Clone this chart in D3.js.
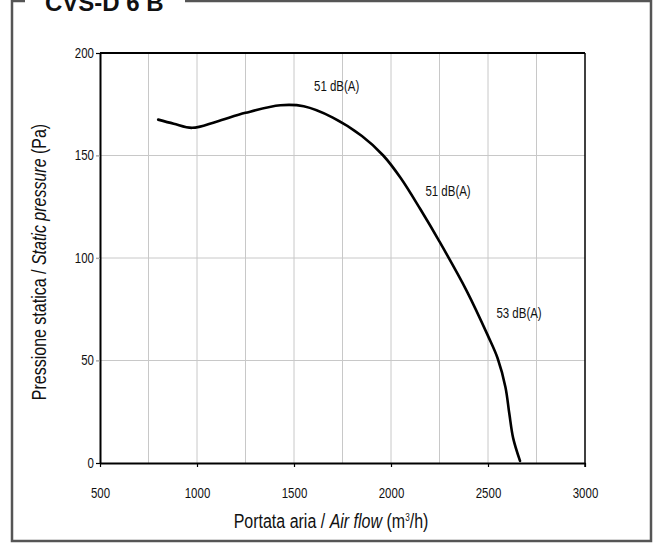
<!DOCTYPE html>
<html>
<head>
<meta charset="utf-8">
<script src="https://cdn.jsdelivr.net/npm/d3@7"></script>
<style>
  html, body { margin: 0; padding: 0; background: #fff; }
  svg { display: block; }
  text { font-family: "Liberation Sans", Arial, sans-serif; fill: #111; }
</style>
</head>
<body>
<svg id="chart" width="660" height="543"></svg>
<script>
// Fan performance curve: air flow (m³/h) vs static pressure (Pa)
const airFlow  = [800, 880, 975, 1100, 1250, 1430, 1550, 1700, 1850, 1960, 2050, 2150, 2250, 2390, 2500, 2550, 2590, 2610, 2630, 2665];
const pressure = [167.5, 165.5, 163.5, 166.5, 170.8, 174.5, 174, 168.5, 159.5, 150, 139, 124, 108, 84, 62, 51, 37, 24, 12, 1];

// Noise level annotations
const noiseLabels = ["51 dB(A)", "51 dB(A)", "53 dB(A)"];
const noiseFlow   = [1720, 2294, 2660];
const noisePress  = [181.5, 130.2, 70.7];

const xTicks = [500, 1000, 1500, 2000, 2500, 3000];
const yTicks = [0, 50, 100, 150, 200];
const xGrid  = [750, 1000, 1250, 1500, 1750, 2000, 2250, 2500, 2750];
const yGrid  = [50, 100, 150];

const chartTitle = "CVS-D 6 B";

// narrow-face emulation: horizontal squeeze applied to the text glyphs
const NARROW = 0.82;

const svg = d3.select("#chart");
const mLeft = 100, mRight = 585, mTop = 53, mBottom = 463;

const x = d3.scaleLinear().domain([500, 3000]).range([mLeft, mRight]);
const y = d3.scaleLinear().domain([0, 200]).range([mBottom, mTop]);

// outer frame
svg.append("rect")
  .attr("x", 12).attr("y", 1).attr("width", 639).attr("height", 540)
  .attr("fill", "none").attr("stroke", "#555").attr("stroke-width", 2.5);

// title over the frame
svg.append("rect").attr("x", 25).attr("y", -2).attr("width", 160).attr("height", 8).attr("fill", "#fff");
svg.append("text")
  .attr("x", 45).attr("y", 11)
  .style("font-weight", "bold").style("font-size", "24px")
  .text(chartTitle);

// grid
svg.append("g").selectAll("line").data(xGrid).join("line")
  .attr("x1", d => x(d)).attr("x2", d => x(d))
  .attr("y1", mTop).attr("y2", mBottom)
  .attr("stroke", "#c8c8c8").attr("stroke-width", 1);
svg.append("g").selectAll("line").data(yGrid).join("line")
  .attr("x1", mLeft - 4).attr("x2", mRight)
  .attr("y1", d => y(d)).attr("y2", d => y(d))
  .attr("stroke", "#c8c8c8").attr("stroke-width", 1);

// axes
const xAxis = d3.axisBottom(x).tickValues(xTicks).tickFormat(d3.format("d"))
  .tickSize(4).tickSizeOuter(0).tickPadding(21);
const yAxis = d3.axisLeft(y).tickValues(yTicks).tickFormat(d3.format("d"))
  .tickSize(4).tickSizeOuter(0).tickPadding(1);

const gx = svg.append("g").attr("transform", `translate(0,${mBottom})`).call(xAxis);
const gy = svg.append("g").attr("transform", `translate(${mLeft},0)`).call(yAxis);
[gx, gy].forEach(g => {
  g.select(".domain").attr("stroke", "#000").attr("stroke-width", 2);
  g.selectAll(".tick line").attr("stroke", "#000").attr("stroke-width", 1.2);
  g.selectAll(".tick text").style("font-size", "14px").attr("fill", "#111")
    .attr("transform", `scale(${NARROW},1)`);
});
gy.selectAll(".tick text").attr("x", -6 / NARROW);
gy.selectAll(".tick").filter(d => d > 0 && d < 200).select("line").attr("stroke", "#aaa");

// top and right borders of plot
svg.append("line").attr("x1", mLeft).attr("x2", mRight).attr("y1", mTop).attr("y2", mTop)
  .attr("stroke", "#000").attr("stroke-width", 2);
svg.append("line").attr("x1", mRight).attr("x2", mRight).attr("y1", mTop).attr("y2", mBottom + 4)
  .attr("stroke", "#000").attr("stroke-width", 1.5);

// curve
const pts = airFlow.map((f, i) => [f, pressure[i]]);
svg.append("path")
  .datum(pts)
  .attr("fill", "none").attr("stroke", "#000").attr("stroke-width", 2.6)
  .attr("stroke-linejoin", "round").attr("stroke-linecap", "round")
  .attr("d", d3.line().x(d => x(d[0])).y(d => y(d[1])).curve(d3.curveCatmullRom.alpha(0.5)));

// noise labels
svg.append("g").selectAll("text").data(noiseLabels).join("text")
  .attr("transform", (d, i) => `translate(${x(noiseFlow[i])},${y(noisePress[i])}) scale(${NARROW},1)`)
  .attr("text-anchor", "middle").style("font-size", "14px")
  .text(d => d);

// axis titles
const xt = svg.append("text").attr("transform", `translate(331,528) scale(${NARROW},1)`)
  .attr("text-anchor", "middle").style("font-size", "19.5px");
xt.append("tspan").text("Portata aria / ");
xt.append("tspan").style("font-style", "italic").text("Air flow");
xt.append("tspan").text(" (m");
xt.append("tspan").attr("dy", -7).style("font-size", "10px").text("3");
xt.append("tspan").attr("dy", 7).text("/h)");

const yt = svg.append("text").attr("transform", `translate(46,262) rotate(-90) scale(${NARROW},1)`)
  .attr("text-anchor", "middle").style("font-size", "19.5px");
yt.append("tspan").text("Pressione statica / ");
yt.append("tspan").style("font-style", "italic").text("Static pressure");
yt.append("tspan").text(" (Pa)");
</script>
</body>
</html>
